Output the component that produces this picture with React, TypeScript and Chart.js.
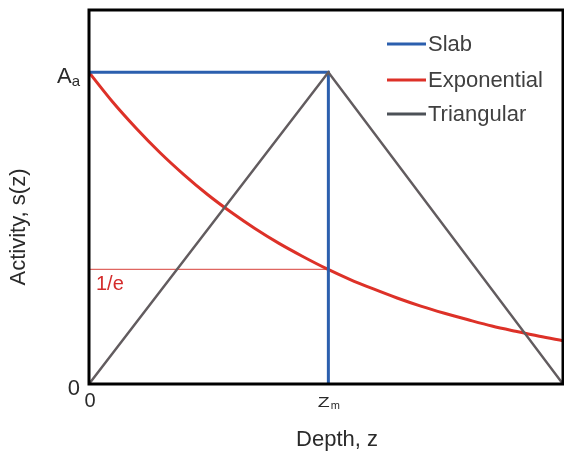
import React, { useEffect, useRef } from "react";
import { Chart, registerables } from "chart.js";

Chart.register(...registerables);

// ---- data ----
const ZM = 1.01; // depth Zm (x units)
const X_MAX = 2;
const Y_MAX = 1.2;
const AA = 1; // activity Aa
const INV_E = 0.368;

const slabX = [0, ZM, ZM];
const slabY = [AA, AA, 0];

const triX = [0, ZM, X_MAX];
const triY = [0, AA, 0];

const expX = [0, 0.1, 0.2, 0.3, 0.4, 0.5, 0.6, 0.7, 0.8, 0.9, 1.0, 1.1, 1.2, 1.3, 1.4, 1.5, 1.6, 1.7, 1.8, 1.9, 2.0];
const expY = [1, 0.905, 0.82, 0.742, 0.672, 0.608, 0.551, 0.499, 0.452, 0.41, 0.371, 0.336, 0.305, 0.276, 0.25, 0.227, 0.206, 0.186, 0.169, 0.153, 0.139];

const invEX = [0, ZM];
const invEY = [INV_E, INV_E];

const seriesNames = ["Slab", "Exponential", "Triangular"];
const seriesColors = ["#2b5fae", "#dd3128", "#625c5f"];

const xTickValues = [0, ZM];
const xTickMain = ["0", "Z"];
const xTickSub = ["", "m"];
const yTickValues = [0, AA];
const yTickMain = ["0", "A"];
const yTickSub = ["", "a"];

const xTitle = "Depth, z";
const yTitle = "Activity, s(z)";
const invELabel = "1/e";

const FONT = "'Liberation Sans', Arial, sans-serif";

const zip = (xs: number[], ys: number[]) => xs.map((x, i) => ({ x, y: ys[i] }));

const overlayPlugin = {
  id: "overlay",
  afterDatasetsDraw(chart: any) {
    const { ctx, chartArea, scales } = chart;
    const xs = scales.x;
    const ys = scales.y;
    ctx.save();
    // frame
    ctx.strokeStyle = "#000";
    ctx.lineWidth = 3;
    ctx.strokeRect(chartArea.left, chartArea.top, chartArea.right - chartArea.left, chartArea.bottom - chartArea.top);

    ctx.fillStyle = "#2a2a2a";
    // y ticks
    yTickValues.forEach((v, i) => {
      const py = ys.getPixelForValue(v) + 5;
      ctx.textBaseline = "middle";
      let right = 80;
      if (yTickSub[i]) {
        ctx.font = `15px ${FONT}`;
        ctx.textAlign = "right";
        ctx.fillText(yTickSub[i], right, py + 5);
        right -= ctx.measureText(yTickSub[i]).width;
      }
      ctx.font = `22px ${FONT}`;
      ctx.textAlign = "right";
      ctx.fillText(yTickMain[i], right, py);
    });
    // x ticks
    xTickValues.forEach((v, i) => {
      const px = xs.getPixelForValue(v) + 1;
      const py = 402;
      ctx.textBaseline = "middle";
      if (xTickSub[i]) {
        const sx = 1.3;
        ctx.font = `15px ${FONT}`;
        const mainW = ctx.measureText(xTickMain[i]).width * sx;
        ctx.font = `11px ${FONT}`;
        const subW = ctx.measureText(xTickSub[i]).width;
        const start = px - (mainW + subW) / 2 - 1;
        ctx.save();
        ctx.translate(start, py + 1);
        ctx.scale(sx, 1);
        ctx.font = `15px ${FONT}`;
        ctx.textAlign = "left";
        ctx.fillText(xTickMain[i], 0, 0);
        ctx.restore();
        ctx.font = `11px ${FONT}`;
        ctx.textAlign = "left";
        ctx.fillText(xTickSub[i], start + mainW + 1, py + 4);
      } else {
        ctx.font = `20px ${FONT}`;
        ctx.textAlign = "center";
        ctx.fillText(xTickMain[i], px, py - 1);
      }
    });
    // axis titles
    ctx.font = `22px ${FONT}`;
    ctx.textAlign = "center";
    ctx.textBaseline = "middle";
    ctx.fillText(xTitle, 337, 440);
    ctx.save();
    ctx.translate(19, 227);
    ctx.rotate(-Math.PI / 2);
    ctx.fillText(yTitle, 0, 0);
    ctx.restore();

    // 1/e label
    ctx.fillStyle = "#d42c2c";
    ctx.font = `20px ${FONT}`;
    ctx.textAlign = "left";
    ctx.fillText(invELabel, 96, ys.getPixelForValue(INV_E) + 15);

    // legend
    const legendY = [44, 80, 114];
    seriesNames.forEach((name, i) => {
      ctx.strokeStyle = i === 2 ? "#4c5157" : seriesColors[i];
      ctx.lineWidth = 3;
      ctx.beginPath();
      ctx.moveTo(387, legendY[i]);
      ctx.lineTo(426, legendY[i]);
      ctx.stroke();
      ctx.fillStyle = "#404040";
      ctx.font = `22px ${FONT}`;
      ctx.textAlign = "left";
      ctx.textBaseline = "middle";
      ctx.fillText(name, 428, legendY[i] + 1);
    });
    ctx.restore();
  },
};

export default function App() {
  const ref = useRef<HTMLCanvasElement>(null);
  useEffect(() => {
    if (!ref.current) return;
    const chart = new Chart(ref.current, {
      type: "line",
      data: {
        datasets: [
          {
            label: seriesNames[2],
            data: zip(triX, triY),
            borderColor: seriesColors[2],
            borderWidth: 2.5,
            pointRadius: 0,
            tension: 0,
            order: 0,
          },
          {
            label: seriesNames[0],
            data: zip(slabX, slabY),
            borderColor: seriesColors[0],
            borderWidth: 3,
            pointRadius: 0,
            tension: 0,
            order: 1,
          },
          {
            label: seriesNames[1],
            data: zip(expX, expY),
            borderColor: seriesColors[1],
            borderWidth: 3,
            pointRadius: 0,
            cubicInterpolationMode: "monotone",
            order: 2,
          },
          {
            label: "1/e",
            data: zip(invEX, invEY),
            borderColor: "#d8403a",
            borderWidth: 1,
            pointRadius: 0,
            tension: 0,
            order: 3,
          },
        ],
      },
      options: {
        animation: false,
        responsive: false,
        layout: { padding: { left: 89, top: 10, right: 1, bottom: 68 } },
        plugins: { legend: { display: false }, tooltip: { enabled: false } },
        scales: {
          x: { type: "linear", min: 0, max: X_MAX, display: false },
          y: { type: "linear", min: 0, max: Y_MAX, display: false },
        },
      },
      plugins: [overlayPlugin],
    } as any);
    return () => chart.destroy();
  }, []);
  return (
    <div style={{ position: "fixed", left: 0, top: 0, width: 564, height: 452, background: "#fff" }}>
      <canvas ref={ref} width={564} height={452} style={{ display: "block" }} />
    </div>
  );
}
